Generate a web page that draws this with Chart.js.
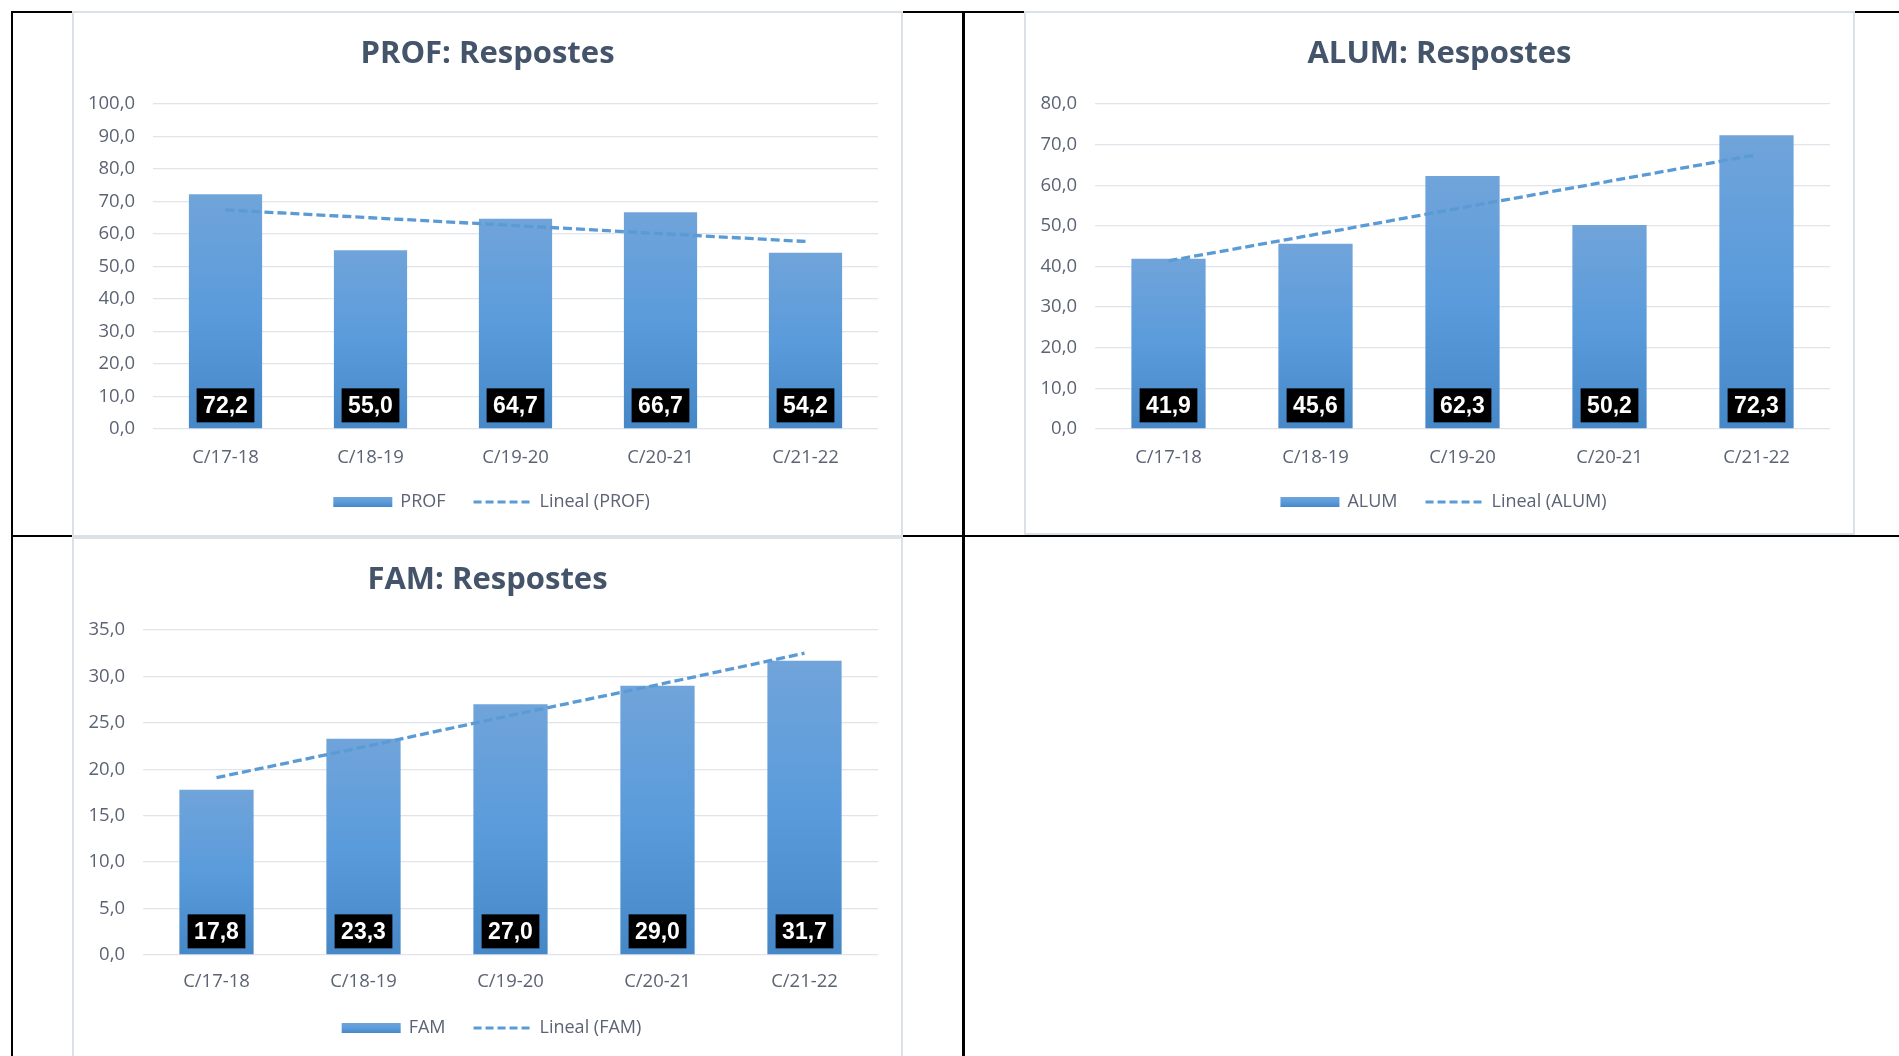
<!DOCTYPE html>
<html lang="ca">
<head>
<meta charset="utf-8">
<title>Respostes</title>
<script src="https://cdn.jsdelivr.net/npm/chart.js@4.4.1/dist/chart.umd.min.js"></script>
<style>
  html, body { margin: 0; padding: 0; background: #fff; overflow: hidden; }
  body { width: 1899px; height: 1056px; position: relative; }
  .linia { position: absolute; background: #000; }
  canvas { position: absolute; }
</style>
</head>
<body>
<!-- línies de la taula -->
<div class="linia" style="left:11px; top:11px; width:1888px; height:2px;"></div>
<div class="linia" style="left:11px; top:11px; width:2px; height:1045px;"></div>
<div class="linia" style="left:962px; top:11px; width:3px; height:1045px;"></div>
<div class="linia" style="left:11px; top:535px; width:1888px; height:2px;"></div>

<canvas id="graficProf" width="831" height="526" style="left:72px; top:11px;"></canvas>
<canvas id="graficAlum" width="831" height="524" style="left:1024px; top:11px;"></canvas>
<canvas id="graficFam" width="831" height="526" style="left:72px; top:537px;"></canvas>

<script>
// Cursos (eix X)
const cursos = ['C/17-18', 'C/18-19', 'C/19-20', 'C/20-21', 'C/21-22'];

// PROF
const profValors = [72.2, 55.0, 64.7, 66.7, 54.2];
const profTendencia = [67.4, 65.0, 62.6, 60.1, 57.7];

// ALUM
const alumValors = [41.9, 45.6, 62.3, 50.2, 72.3];
const alumTendencia = [41.4, 47.9, 54.5, 61.0, 67.5];

// FAM
const famValors = [17.8, 23.3, 27.0, 29.0, 31.7];
const famTendencia = [19.1, 22.4, 25.8, 29.1, 32.5];

// Eix Y: [màxim, pas]
const profEixY = [100, 10];
const alumEixY = [80, 10];
const famEixY = [35, 5];

const colorText = '#5b6374';
const colorTitol = '#44546a';
const colorLinia = '#5b9bd5';

// 72.2 -> "72,2"
function ambComa(v) {
    return Number(v).toFixed(1).replace('.', ',');
}

function degradat(ctx, dalt, baix) {
    const g = ctx.createLinearGradient(0, dalt, 0, baix);
    g.addColorStop(0, '#70a4da');
    g.addColorStop(0.5, '#5a9bdb');
    g.addColorStop(1, '#4587c7');
    return g;
}

// degradat propi per a cada barra
function fonsBarra(context) {
    const chart = context.chart;
    if (!chart.chartArea || context.type !== 'data') return '#5b9bd5';
    const y = chart.scales.y;
    return degradat(chart.ctx, y.getPixelForValue(context.parsed.y), y.getPixelForValue(0));
}

// marc, títol, etiquetes de dades i llegenda
const decoracio = {
    id: 'decoracio',
    beforeDraw(chart, args, opts) {
        const { ctx, width, height } = chart;
        ctx.save();
        ctx.fillStyle = '#fff';
        ctx.fillRect(0, 0, width, height);
        ctx.strokeStyle = '#dce1e8';
        ctx.lineWidth = 2;
        ctx.strokeRect(1, 1, width - 2, height - 2);
        ctx.fillStyle = colorTitol;
        ctx.font = 'bold 31px "Open Sans"';
        ctx.textAlign = 'center';
        ctx.textBaseline = 'middle';
        ctx.fillText(opts.titol, width / 2, 43);
        ctx.restore();
    },
    afterDatasetsDraw(chart) {
        const { ctx } = chart;
        const meta = chart.getDatasetMeta(0);
        const valors = chart.data.datasets[0].data;
        ctx.save();
        ctx.font = 'bold 23px "Liberation Sans"';
        ctx.textAlign = 'center';
        ctx.textBaseline = 'middle';
        meta.data.forEach(function(barra, i) {
            const text = ambComa(valors[i]);
            const w = ctx.measureText(text).width + 13;
            const h = 34;
            const baix = barra.base - 6;
            ctx.fillStyle = '#000';
            ctx.fillRect(barra.x - w / 2, baix - h, w, h);
            ctx.fillStyle = '#fff';
            ctx.fillText(text, barra.x, baix - h / 2 + 1);
        });
        ctx.restore();
    },
    afterDraw(chart) {
        const { ctx, width } = chart;
        const y = 491;
        const t1 = chart.data.datasets[0].label;
        const t2 = chart.data.datasets[1].label;
        ctx.save();
        ctx.font = '18px "Open Sans"';
        ctx.textBaseline = 'middle';
        ctx.textAlign = 'left';
        const w1 = 59 + 8 + ctx.measureText(t1).width;
        const w2 = 60 + 6 + ctx.measureText(t2).width;
        let x = width / 2 + 4 - (w1 + 28 + w2) / 2;
        ctx.fillStyle = degradat(ctx, y - 5, y + 5);
        ctx.fillRect(x, y - 5, 59, 10);
        ctx.fillStyle = colorText;
        ctx.fillText(t1, x + 67, y);
        x += w1 + 28;
        ctx.strokeStyle = colorLinia;
        ctx.lineWidth = 3;
        ctx.setLineDash([8, 4]);
        ctx.beginPath();
        ctx.moveTo(x, y);
        ctx.lineTo(x + 60, y);
        ctx.stroke();
        ctx.fillText(t2, x + 66, y);
        ctx.restore();
    }
};

function creaGrafic(id, titol, nom, valors, tendencia, eixY, ampladaEix, margeX) {
    const canvas = document.getElementById(id);
    const alt = canvas.height;
    return new Chart(canvas.getContext('2d'), {
        type: 'bar',
        data: {
            labels: cursos,
            datasets: [{
                label: nom,
                data: valors,
                backgroundColor: fonsBarra,
                borderWidth: 0,
                barPercentage: 0.505,
                categoryPercentage: 1,
                order: 1
            }, {
                type: 'line',
                label: 'Lineal (' + nom + ')',
                data: tendencia,
                borderColor: colorLinia,
                borderWidth: 3.3,
                borderDash: [9, 4],
                pointRadius: 0,
                fill: false,
                tension: 0,
                order: 0
            }]
        },
        options: {
            responsive: false,
            animation: false,
            devicePixelRatio: 1,
            layout: { padding: { top: 93, right: 25, left: 0, bottom: 0 } },
            plugins: {
                legend: { display: false },
                tooltip: { enabled: false },
                decoracio: { titol: titol }
            },
            scales: {
                x: {
                    grid: { display: false },
                    border: { display: false },
                    ticks: { color: colorText, font: { family: 'Open Sans', size: 18.5 }, padding: margeX },
                    afterFit: function(scale) { scale.height = alt - 418; }
                },
                y: {
                    min: 0,
                    max: eixY[0],
                    grid: { color: '#e1e4ea', lineWidth: 1.3, drawTicks: false },
                    border: { display: false },
                    ticks: {
                        stepSize: eixY[1],
                        color: colorText,
                        font: { family: 'Open Sans', size: 18.5 },
                        padding: 18,
                        callback: function(v) { return ambComa(v); }
                    },
                    afterFit: function(scale) { scale.width = ampladaEix; }
                }
            }
        },
        plugins: [decoracio]
    });
}

creaGrafic('graficProf', 'PROF: Respostes', 'PROF', profValors, profTendencia, profEixY, 81, 10);
creaGrafic('graficAlum', 'ALUM: Respostes', 'ALUM', alumValors, alumTendencia, alumEixY, 71, 10);
creaGrafic('graficFam', 'FAM: Respostes', 'FAM', famValors, famTendencia, famEixY, 71, 8);
</script>
</body>
</html>
